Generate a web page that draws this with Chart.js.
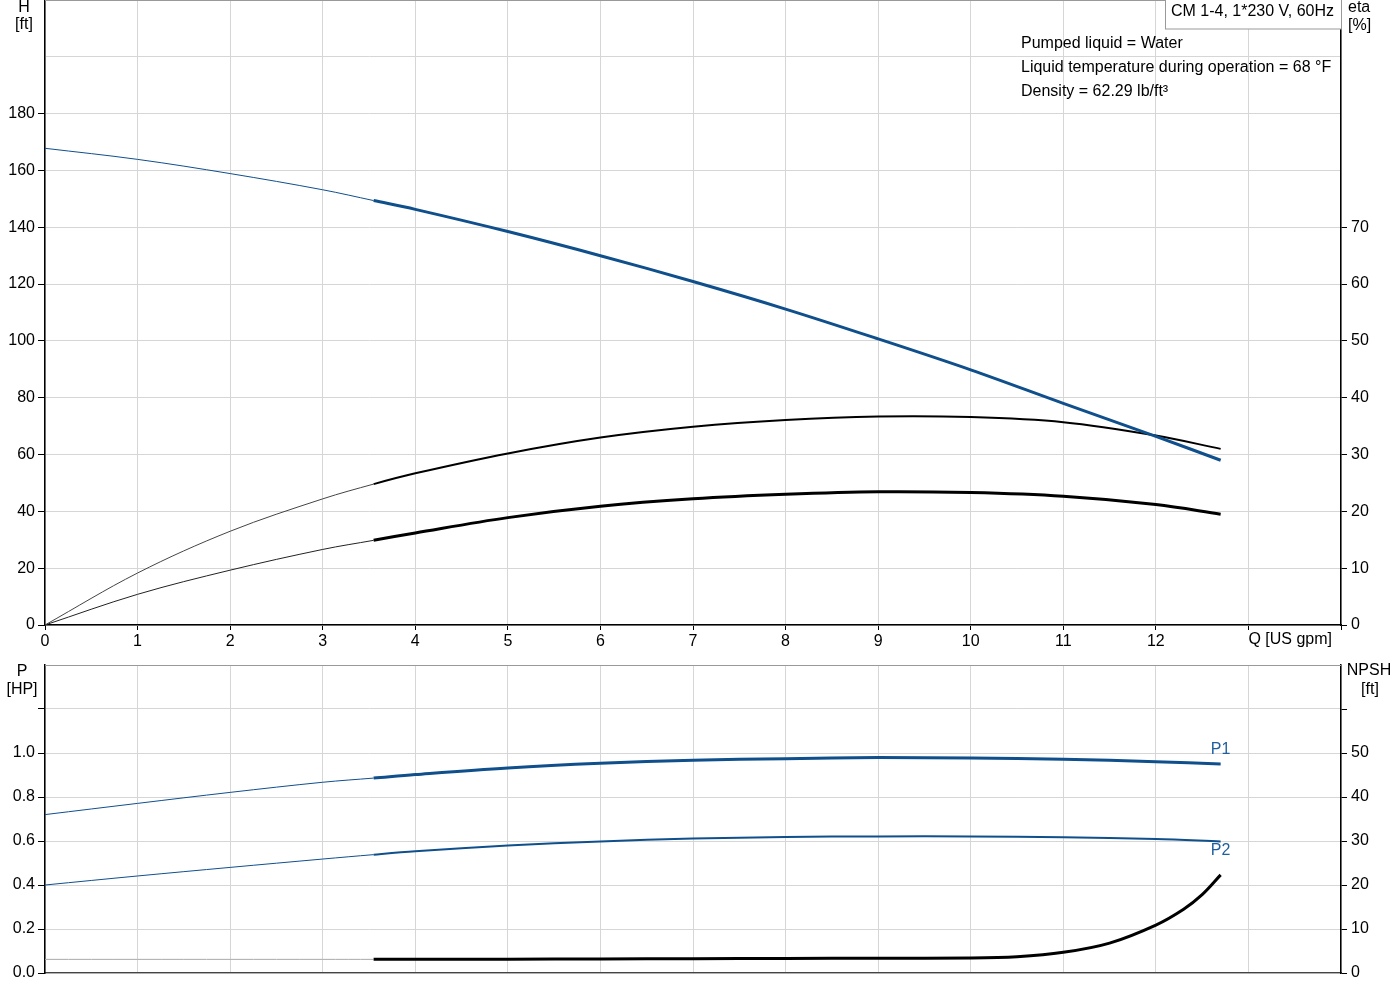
<!DOCTYPE html>
<html>
<head>
<meta charset="utf-8">
<script src="https://cdn.jsdelivr.net/npm/chart.js@4"></script>
<style>
  body { margin: 0; background: #fff; }
  #wrap { position: relative; width: 1400px; height: 1000px; }
  canvas { position: absolute; left: 0; }
</style>
</head>
<body>
<div id="wrap">
  <canvas id="top" width="1400" height="660" style="top:0"></canvas>
  <canvas id="bot" width="1400" height="340" style="top:660px"></canvas>
</div>
<script>
// flow points (US gpm)
const Q = [0, 1, 2, 3, 3.55, 4, 5, 6, 7, 8, 9, 10, 11, 12, 12.7];
// head [ft]
const headFt = [167.8, 163.9, 158.9, 153.2, 149.4, 146.3, 138.5, 130.0, 120.9, 111.2, 100.7, 89.8, 78.0, 66.4, 58.0];
// efficiencies [%]
const etaPump = [0, 9.15, 16.5, 22.2, 24.8, 26.7, 30.2, 33.0, 34.9, 36.1, 36.7, 36.6, 35.7, 33.35, 31.0];
const etaTotal = [0, 5.4, 9.65, 13.3, 14.9, 16.2, 18.9, 20.9, 22.2, 23.0, 23.45, 23.3, 22.65, 21.2, 19.5];
// power [HP]
const p1 = [0.72, 0.771, 0.821, 0.867, 0.886, 0.902, 0.932, 0.953, 0.967, 0.974, 0.979, 0.977, 0.972, 0.96, 0.95];
const p2 = [0.40, 0.441, 0.48, 0.518, 0.538, 0.553, 0.579, 0.598, 0.611, 0.618, 0.621, 0.621, 0.617, 0.609, 0.598];
// NPSH [ft]
const npshQ = [0, 1, 2, 3, 3.55, 4, 5, 6, 7, 8, 9, 10, 10.5, 11, 11.5, 12, 12.3, 12.5, 12.7];
const npshFt = [3.1, 3.1, 3.1, 3.1, 3.1, 3.1, 3.15, 3.2, 3.25, 3.3, 3.35, 3.4, 3.7, 4.7, 6.8, 10.9, 14.5, 17.8, 22.3];

const infoLines = ['Pumped liquid = Water', 'Liquid temperature during operation = 68 °F', 'Density = 62.29 lb/ft³'];
const pumpName = 'CM 1-4, 1*230 V, 60Hz';

const BLUE = '#0f4f8c';
const GRID = '#d6d6d6';
const FONT = 'Arial, "Liberation Sans", sans-serif';
const QSTART = 3.55; // where the thick (operating) part begins
const NONE = 'rgba(0,0,0,0)';

Chart.defaults.font.family = FONT;
Chart.defaults.font.size = 16;
Chart.defaults.color = '#000';

function pts(xs, ys) { return xs.map((x, i) => ({ x: x, y: ys[i] })); }

function curve(xs, ys, color, w, axis, thinColor) {
  return {
    data: pts(xs, ys),
    yAxisID: axis,
    borderColor: color,
    borderWidth: w,
    pointRadius: 0,
    tension: 0.35,
    segment: {
      borderWidth: c => c.p0.parsed.x < QSTART - 0.01 ? 1 : w,
      borderColor: c => c.p0.parsed.x < QSTART - 0.01 ? (thinColor || color) : color
    }
  };
}

function fixW(w) { return s => { s.width = w; s.paddingTop = 0; s.paddingBottom = 0; }; }
function fixH(h) { return s => { s.height = h; s.paddingLeft = 0; s.paddingRight = 0; }; }

function txt(ctx, s, x, y, align, color) {
  ctx.save();
  ctx.font = '16px ' + FONT;
  ctx.fillStyle = color || '#000';
  ctx.textAlign = align || 'center';
  ctx.textBaseline = 'middle';
  ctx.fillText(s, x, y);
  ctx.restore();
}

const topDecor = {
  id: 'topDecor',
  afterDraw(chart) {
    const ctx = chart.ctx, a = chart.chartArea;
    ctx.save();
    ctx.strokeStyle = '#999';
    ctx.lineWidth = 1;
    ctx.beginPath(); ctx.moveTo(a.left, 0.5); ctx.lineTo(a.right, 0.5); ctx.stroke();
    // name box
    ctx.fillStyle = '#fff';
    ctx.fillRect(1165, 0, a.right - 1165, 29);
    ctx.strokeStyle = '#999';
    ctx.strokeRect(1165.5, -1, a.right - 1165, 30);
    ctx.restore();
    txt(ctx, pumpName, 1171, 12, 'left');
    infoLines.forEach((s, i) => txt(ctx, s, 1021, 44 + i * 24, 'left'));
    txt(ctx, 'H', 24, 8);
    txt(ctx, '[ft]', 24, 25);
    txt(ctx, 'eta', 1348, 8, 'left');
    txt(ctx, '[%]', 1348, 26, 'left');
    txt(ctx, 'Q [US gpm]', chart.scales.x.getPixelForValue(13), 640, 'left');
  }
};

const botDecor = {
  id: 'botDecor',
  afterDraw(chart) {
    const ctx = chart.ctx, a = chart.chartArea;
    ctx.save();
    ctx.strokeStyle = '#999';
    ctx.lineWidth = 1;
    ctx.beginPath(); ctx.moveTo(a.left, a.top + 0.5); ctx.lineTo(a.right, a.top + 0.5); ctx.stroke();
    ctx.restore();
    txt(ctx, 'P', 22, 12);
    txt(ctx, '[HP]', 22, 30);
    txt(ctx, 'NPSH', 1369, 11);
    txt(ctx, '[ft]', 1370, 30);
    const xs = chart.scales.x, ys = chart.scales.y;
    txt(ctx, 'P1', xs.getPixelForValue(12.7), ys.getPixelForValue(1.0) - 3, 'center', '#1f5f9e');
    txt(ctx, 'P2', xs.getPixelForValue(12.7), ys.getPixelForValue(0.555), 'center', '#1f5f9e');
  }
};

const xScale = (showLabels, h) => ({
  type: 'linear', min: 0, max: 14,
  afterFit: fixH(h),
  border: { color: showLabels ? '#000' : '#444', width: showLabels ? 1.5 : 1.3 },
  grid: { color: GRID, tickLength: showLabels ? 5 : 0, tickColor: '#000' },
  ticks: {
    display: showLabels, stepSize: 1, includeBounds: false, padding: 2, maxRotation: 0, autoSkip: false,
    callback: v => v <= 12 ? String(v) : ''
  }
});

new Chart(document.getElementById('top'), {
  type: 'scatter',
  data: {
    datasets: [
      curve(Q, headFt, BLUE, 3, 'y'),
      curve(Q, etaPump, '#000', 2, 'y2', '#444'),
      curve(Q, etaTotal, '#000', 3, 'y2', '#222')
    ]
  },
  options: {
    responsive: false, animation: false, showLine: true,
    layout: { padding: 0 },
    plugins: { legend: { display: false }, tooltip: { enabled: false } },
    scales: {
      x: xScale(true, 35),
      y: {
        position: 'left', min: 0, max: 220,
        afterFit: fixW(45),
        border: { color: '#000', width: 1.5 },
        grid: { color: GRID, tickLength: 7, tickColor: c => c.tick && c.tick.value > 180 ? NONE : '#000' },
        ticks: { stepSize: 20, includeBounds: false, padding: 3, callback: v => v <= 180 ? String(v) : '' }
      },
      y2: {
        position: 'right', min: 0, max: 110,
        afterFit: fixW(59),
        border: { color: '#000', width: 1.5 },
        grid: { drawOnChartArea: false, tickLength: 6, tickColor: c => c.tick && c.tick.value > 70 ? NONE : '#000' },
        ticks: { stepSize: 10, includeBounds: false, padding: 4, callback: v => v <= 70 ? String(v) : '' }
      }
    }
  },
  plugins: [topDecor]
});

new Chart(document.getElementById('bot'), {
  type: 'scatter',
  data: {
    datasets: [
      curve(Q, p1, BLUE, 3, 'y'),
      curve(Q, p2, BLUE, 2, 'y'),
      curve(npshQ, npshFt, '#000', 3, 'y2', '#aaa')
    ]
  },
  options: {
    responsive: false, animation: false, showLine: true,
    layout: { padding: { top: 5, left: 0, right: 0, bottom: 0 } },
    plugins: { legend: { display: false }, tooltip: { enabled: false } },
    scales: {
      x: xScale(false, 27),
      y: {
        position: 'left', min: 0, max: 1.4,
        afterFit: fixW(45),
        border: { color: '#000', width: 1.5 },
        grid: { color: GRID, tickLength: 7, tickColor: c => c.tick && c.tick.value > 1.3 ? NONE : '#000' },
        ticks: { stepSize: 0.2, includeBounds: false, padding: 3, callback: v => v <= 1.01 ? v.toFixed(1) : '' }
      },
      y2: {
        position: 'right', min: 0, max: 70,
        afterFit: fixW(59),
        border: { color: '#000', width: 1.5 },
        grid: { drawOnChartArea: false, tickLength: 6, tickColor: c => c.tick && c.tick.value > 65 ? NONE : '#000' },
        ticks: { stepSize: 10, includeBounds: false, padding: 4, callback: v => v <= 50 ? String(v) : '' }
      }
    }
  },
  plugins: [botDecor]
});
</script>
</body>
</html>
